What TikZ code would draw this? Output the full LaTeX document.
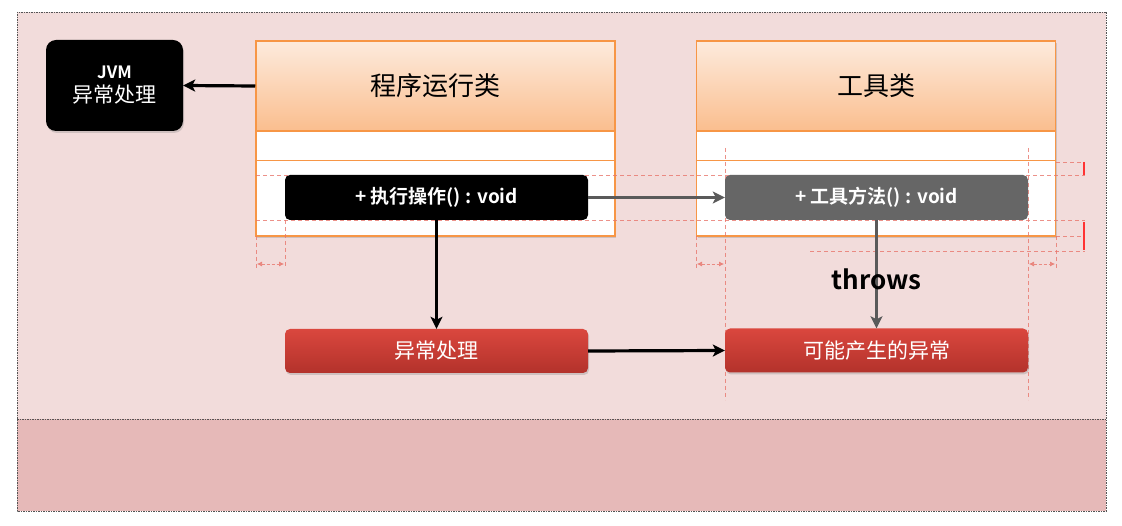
\documentclass[tikz,border=0pt]{standalone}
\usepackage{fontspec}
\setmainfont{Noto Sans CJK SC}
\newfontfamily\cjkbold{Noto Sans CJK SC Bold}
\usetikzlibrary{shadows,arrows.meta}
\definecolor{bgup}{HTML}{F2DCDB}
\definecolor{bglow}{HTML}{E6B9B8}
\definecolor{orng}{HTML}{F79646}
\definecolor{hdrtop}{HTML}{FDEBDD}
\definecolor{hdrbot}{HTML}{FABE8E}
\definecolor{methgray}{HTML}{666666}
\definecolor{arrgray}{HTML}{5A5A5A}
\definecolor{redtop}{HTML}{DA473E}
\definecolor{redbot}{HTML}{B3322B}
\definecolor{guidered}{HTML}{E8766C}
\definecolor{frame}{HTML}{555555}
\tikzset{
  shd/.style={drop shadow={opacity=0.3,shadow xshift=1pt,shadow yshift=-2pt}},
  jvmbox/.style={shd,fill=black,rounded corners=10pt,minimum width=137,minimum height=91,
    text=white,align=center,font=\fontsize{21}{24}\selectfont,inner sep=0pt},
  clsbody/.style={shd,fill=white,draw=orng,line width=1.5pt,minimum width=359,minimum height=195,inner sep=0pt},
  clshdr/.style={top color=hdrtop,bottom color=hdrbot,draw=orng,line width=1.5pt,minimum width=359,minimum height=90,
    font=\fontsize{26}{30}\selectfont,inner sep=0pt},
  methbox/.style={rounded corners=5pt,minimum width=303,minimum height=45,text=white,
    font=\cjkbold\fontsize{19}{22}\selectfont,inner sep=0pt},
  redbox/.style={shd,top color=redtop,bottom color=redbot,rounded corners=5pt,minimum width=303,minimum height=44,
    text=white,font=\fontsize{21}{24}\selectfont,inner sep=0pt},
  blkarrow/.style={draw=black,line width=3.2pt,-{Stealth[length=12pt,width=12pt,inset=3pt]}},
  grayarrow/.style={draw=arrgray,line width=3.6pt,-{Stealth[length=12pt,width=12pt,inset=3pt]}},
  guide/.style={draw=guidered,line width=0.6pt,dash pattern=on 4pt off 3pt,opacity=0.8},
  guidearr/.style={guide,{Latex[length=5pt,width=5pt]}-{Latex[length=5pt,width=5pt]},dash pattern=on 3pt off 2pt},
  bracket/.style={draw=red!80!white,line width=1.2pt},
}
\begin{document}
\begin{tikzpicture}[x=1pt,y=-1pt]
\useasboundingbox (0,0) rectangle (1122,526);
\fill[white] (0,0) rectangle (1122,526);
% backgrounds
\fill[bgup] (17,12) rectangle (1106,419);
\fill[bglow] (17,419) rectangle (1106,511);
\draw[frame,line width=0.8pt,dash pattern=on 1.5pt off 1pt] (17,12) rectangle (1106,511);
\draw[frame,line width=0.8pt,dash pattern=on 1.5pt off 1pt] (17,419) -- (1106,419);

% JVM box
\node[jvmbox] (jvm) at (114.5,85.5) {{\cjkbold\fontsize{17}{20}\selectfont JVM}\\异常处理};

% class 1
\node[clsbody] (c1) at (435.5,138.5) {};
\node[clshdr,anchor=north west] (c1h) at (c1.north west) {程序运行类};
\draw[orng,line width=1.5pt] ([yshift=-29pt]c1h.south west) -- ([yshift=-29pt]c1h.south east);
% class 2
\node[clsbody] (c2) at (876,138.5) {};
\node[clshdr,anchor=north west] (c2h) at (c2.north west) {工具类};
\draw[orng,line width=1.5pt] ([yshift=-29pt]c2h.south west) -- ([yshift=-29pt]c2h.south east);

% guides
\draw[guide] (256,175) -- (1085,175);
\draw[guide] (256,220) -- (1085,220);
\draw[guide] (1056,162) -- (1085,162);
\draw[guide] (1056,236) -- (1085,236);
\draw[guide] (810,251) -- (1085,251);
\draw[guide] (256,236) -- (256,268);
\draw[guide] (285,220) -- (285,268);
\draw[guide] (696,236) -- (696,268);
\draw[guide] (725,148) -- (725,400);
\draw[guide] (1028,148) -- (1028,400);
\draw[guide] (1056,236) -- (1056,268);
\draw[guidearr] (257,264) -- (284,264);
\draw[guidearr] (697,264) -- (724,264);
\draw[guidearr] (1029,264) -- (1055,264);
\draw[bracket] (1084,162) -- (1084,175);
\draw[bracket] (1084,222) -- (1084,250);

% method boxes
\node[methbox,fill=black] (m1) at (436.5,197.5) {+ 执行操作() : void};
\node[methbox,fill=methgray] (m2) at (876.5,197.5) {+ 工具方法() : void};

% red boxes
\node[redbox] (r1) at (436.5,351) {异常处理};
\node[redbox] (r2) at (876.5,350.5) {可能产生的异常};

% connectors
\draw[blkarrow] (c1h.west) -- (jvm.east);
\draw[grayarrow] (m1.east) -- (m2.west);
\draw[blkarrow] (m1.south) -- (r1.north);
\draw[grayarrow] (m2.south) -- node[pos=0.55,font=\cjkbold\fontsize{26}{30}\selectfont,text=black] {throws} (r2.north);
\draw[blkarrow] (r1.east) -- (r2.west);
\end{tikzpicture}
\end{document}
